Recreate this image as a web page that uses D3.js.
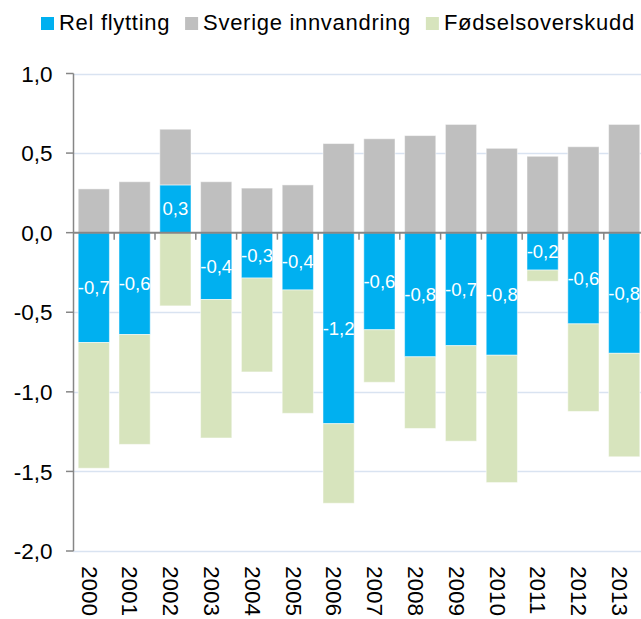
<!DOCTYPE html>
<html>
<head>
<meta charset="utf-8">
<script src="https://cdn.jsdelivr.net/npm/d3@7"></script>
<style>
  body { margin: 0; background: #fff; }
  svg { display: block; font-family: "Liberation Sans", Arial, sans-serif; }
</style>
</head>
<body>
<div id="chart"></div>
<script>
// years on the category axis
var years = ["2000", "2001", "2002", "2003", "2004", "2005", "2006",
             "2007", "2008", "2009", "2010", "2011", "2012", "2013"];

// series values
var relFlytting = [-0.69, -0.64, 0.30, -0.42, -0.285, -0.36, -1.20,
                   -0.61, -0.78, -0.71, -0.77, -0.235, -0.573, -0.758];
var sverigeInnvandring = [0.275, 0.32, 0.35, 0.32, 0.28, 0.30, 0.56,
                          0.59, 0.61, 0.68, 0.53, 0.48, 0.54, 0.68];
var fodselsoverskudd = [-0.79, -0.69, -0.46, -0.87, -0.59, -0.775, -0.50,
                        -0.33, -0.45, -0.60, -0.80, -0.07, -0.55, -0.65];

var seriesNames = ["Rel flytting", "Sverige innvandring", "Fødselsoverskudd"];
var seriesColors = ["#00B0F0", "#BFBFBF", "#D7E4BD"];
var yTicks = [1.0, 0.5, 0.0, -0.5, -1.0, -1.5, -2.0];

var width = 641, height = 619;

var locale = d3.formatLocale({decimal: ",", thousands: " ", grouping: [3], currency: ["", ""], minus: "-"});
var fmt = locale.format(".1f");

// table for the stack layout
var keys = ["rel", "sverige", "fodsel"];
var table = years.map(function(y, i) {
    return {year: y, rel: relFlytting[i], sverige: sverigeInnvandring[i], fodsel: fodselsoverskudd[i]};
});

var series = d3.stack()
    .keys(keys)
    .offset(d3.stackOffsetDiverging)(table);

var x = d3.scaleBand()
    .domain(years)
    .range([73.4, 644.6])
    .paddingInner(0.235)
    .paddingOuter(0.1175);

var y = d3.scaleLinear()
    .domain([-2, 1])
    .range([551, 73.5]);

var svg = d3.select("#chart").append("svg")
    .attr("width", width)
    .attr("height", height);

// horizontal gridlines
svg.append("g")
    .selectAll("line")
    .data(yTicks.filter(function(t) { return t !== 0; }))
    .join("line")
    .attr("x1", 73)
    .attr("x2", width)
    .attr("y1", function(d) { return Math.round(y(d)) + 0.5; })
    .attr("y2", function(d) { return Math.round(y(d)) + 0.5; })
    .attr("stroke", "#D9E3F1")
    .attr("stroke-width", 1.5);

// bars
svg.append("g")
    .selectAll("g")
    .data(series)
    .join("g")
    .attr("fill", function(d, i) { return seriesColors[i]; })
    .selectAll("rect")
    .data(function(d) { return d; })
    .join("rect")
    .attr("x", function(d) { return x(d.data.year); })
    .attr("width", x.bandwidth())
    .attr("y", function(d) { return y(Math.max(d[0], d[1])); })
    .attr("height", function(d) { return Math.abs(y(d[0]) - y(d[1])); })
    .attr("stroke", "#fff")
    .attr("stroke-opacity", 0.5)
    .attr("stroke-width", 1);

// data labels for Rel flytting
var relSeries = series[0];
svg.append("g")
    .selectAll("text")
    .data(relSeries)
    .join("text")
    .attr("x", function(d) { return x(d.data.year) + x.bandwidth() / 2; })
    .attr("y", function(d) { return (y(d[0]) + y(d[1])) / 2; })
    .attr("dy", "0.36em")
    .attr("text-anchor", "middle")
    .attr("fill", "#fff")
    .style("font-size", "18.5px")
    .text(function(d) { return fmt(d.data.rel); });

// y axis
var yAxis = svg.append("g");
yAxis.append("line")
    .attr("x1", 73.5).attr("x2", 73.5)
    .attr("y1", y(1)).attr("y2", y(-2))
    .attr("stroke", "#868686")
    .attr("stroke-width", 1.5);
yAxis.selectAll(".tick")
    .data(yTicks)
    .join("line")
    .attr("x1", 66).attr("x2", 73.5)
    .attr("y1", function(d) { return y(d); })
    .attr("y2", function(d) { return y(d); })
    .attr("stroke", "#868686")
    .attr("stroke-width", 1.5);
yAxis.selectAll("text")
    .data(yTicks)
    .join("text")
    .attr("x", 52.5)
    .attr("y", function(d) { return y(d); })
    .attr("dy", "0.36em")
    .attr("text-anchor", "end")
    .attr("fill", "#000")
    .style("font-size", "22.5px")
    .text(function(d) { return fmt(d); });

// category axis along zero
var step = x.step();
var bounds = d3.range(years.length + 1).map(function(i) { return x.range()[0] + i * step; });
var xAxis = svg.append("g");
xAxis.append("line")
    .attr("x1", 73).attr("x2", width)
    .attr("y1", y(0)).attr("y2", y(0))
    .attr("stroke", "#868686")
    .attr("stroke-width", 2);
xAxis.selectAll(".tick")
    .data(bounds.slice(1))
    .join("line")
    .attr("x1", function(d) { return d; })
    .attr("x2", function(d) { return d; })
    .attr("y1", y(0)).attr("y2", y(0) + 7)
    .attr("stroke", "#868686")
    .attr("stroke-width", 1.5);

// year labels, rotated
svg.append("g")
    .selectAll("text")
    .data(years)
    .join("text")
    .attr("transform", function(d) {
        return "translate(" + (x(d) + x.bandwidth() / 2 - 4) + ",566) rotate(90)";
    })
    .attr("dy", "0.36em")
    .attr("fill", "#000")
    .style("font-size", "22.5px")
    .text(function(d) { return d; });

// legend
var legend = svg.append("g");
var lx = 41;
seriesNames.forEach(function(name, i) {
    legend.append("rect")
        .attr("x", lx).attr("y", 17)
        .attr("width", 13).attr("height", 13)
        .attr("fill", seriesColors[i]);
    var t = legend.append("text")
        .attr("x", lx + 18)
        .attr("y", 29.5)
        .attr("fill", "#000")
        .style("font-size", "22px")
        .style("letter-spacing", "0.7px")
        .text(name);
    lx += 18 + t.node().getComputedTextLength() + 15;
});
</script>
</body>
</html>
